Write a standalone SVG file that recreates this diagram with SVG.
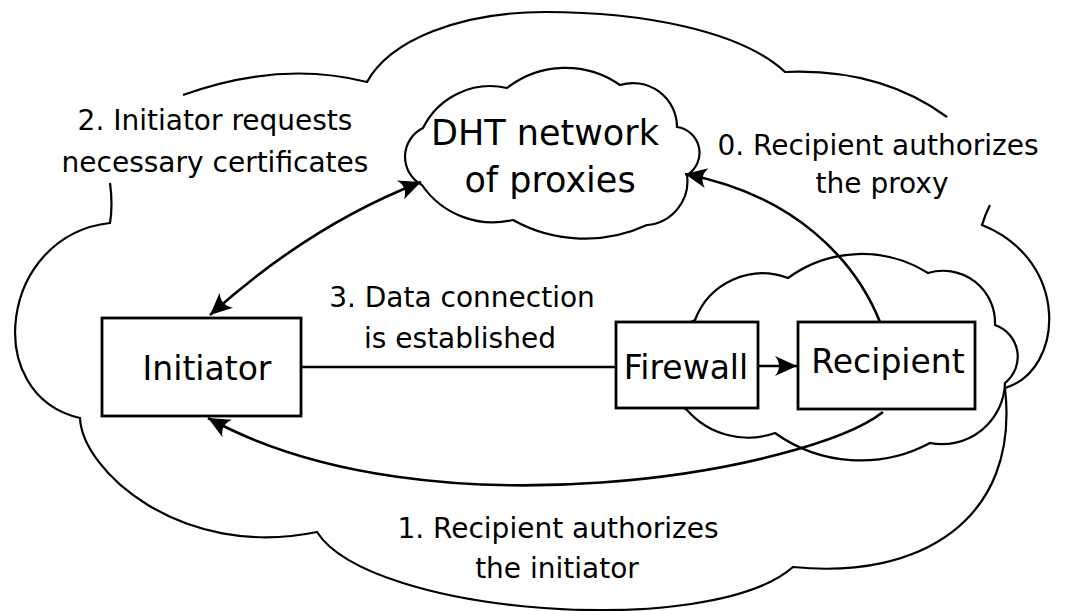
<svg xmlns="http://www.w3.org/2000/svg" width="1066" height="611" viewBox="0 0 1066 611">
<style>
.cloud{fill:none;stroke:#000;stroke-width:2.2;stroke-linejoin:miter}
.cloudf{fill:#fff;stroke:#000;stroke-width:2.2}
.box{fill:#fff;stroke:#000;stroke-width:2.8}
.conn{fill:none;stroke:#000;stroke-width:2.6}
.lbl{font-family:"DejaVu Sans","Liberation Sans",sans-serif;font-size:28px;fill:#000;text-anchor:middle}
.big{font-size:33px}
.dht{font-size:35px}
</style>
<defs>
<marker id="ah" viewBox="-24 -12 26 24" refX="0" refY="0" markerWidth="26" markerHeight="24" markerUnits="userSpaceOnUse" orient="auto-start-reverse">
<path d="M0,0 L-22,-10 Q-14,0 -22,10 Z" fill="#000"/>
</marker>
</defs>
<rect width="1066" height="611" fill="#fff"/>
<g id="outer-cloud">
<path class="cloud" d="M183,95 Q280,60 367,82 C390,40 460,12 545,12 C640,12 740,30 785,72 Q880,68 947,117"/>
<path class="cloud" d="M110,183 Q113,205 110,223 C0,235 -20,395 80,418 C82,470 180,560 317,532 C370,615 710,640 793,567 C920,580 1020,520 1005,388 C1065,370 1070,260 982,225 Q985,215 990,205"/>
</g>
<g id="firewall-cloud">
<path class="cloud" d="M687,410 A50,50 0 0 1 695,320 A72,72 0 0 1 788,278 A125,125 0 0 1 928,273 A52,52 0 0 1 995,325 A33.5,33.5 0 0 1 1005,383 A63,63 0 0 1 930,443 A147,147 0 0 1 775,433 A81,81 0 0 1 687,410 Z"/>
</g>
<g id="dht">
<path class="cloudf" d="M423,128 A75,75 0 0 1 507,88 A95,95 0 0 1 620,85 A44,44 0 0 1 677,127 A26,26 0 0 1 687,175 A44,44 0 0 1 647,225 A148,148 0 0 1 513,220 A86,86 0 0 1 422,185 A32,32 0 0 1 423,128 Z"/>
<text class="lbl dht" x="545" y="145">DHT network</text>
<text class="lbl dht" x="550" y="192">of proxies</text>
</g>
<g id="connectors">
<path class="conn" d="M210,315 Q310,225 421,182" marker-start="url(#ah)" marker-end="url(#ah)"/>
<path class="conn" d="M880,322 C855,260 795,195 685,174" marker-end="url(#ah)"/>
<path class="conn" d="M883,412 C810,470 430,540 208,418" marker-end="url(#ah)"/>
<path class="conn" d="M301,367 H616"/>
<path class="conn" d="M758,366 H797" marker-end="url(#ah)"/>
</g>
<g id="initiator">
<rect class="box" x="102" y="318" width="199" height="98"/>
<text class="lbl big" x="207" y="380">Initiator</text>
</g>
<g id="firewall">
<rect class="box" x="616" y="322" width="142" height="86"/>
<text class="lbl big" x="686" y="379">Firewall</text>
</g>
<g id="recipient">
<rect class="box" x="798" y="322" width="177" height="87"/>
<text class="lbl big" x="888" y="373">Recipient</text>
</g>
<g id="labels">
<text class="lbl" x="215" y="130">2. Initiator requests</text>
<text class="lbl" x="215" y="172">necessary certificates</text>
<text class="lbl" x="878" y="155">0. Recipient authorizes</text>
<text class="lbl" x="882" y="193">the proxy</text>
<text class="lbl" x="462" y="307">3. Data connection</text>
<text class="lbl" x="460" y="348">is established</text>
<text class="lbl" x="558" y="538">1. Recipient authorizes</text>
<text class="lbl" x="557" y="578">the initiator</text>
</g>
</svg>
